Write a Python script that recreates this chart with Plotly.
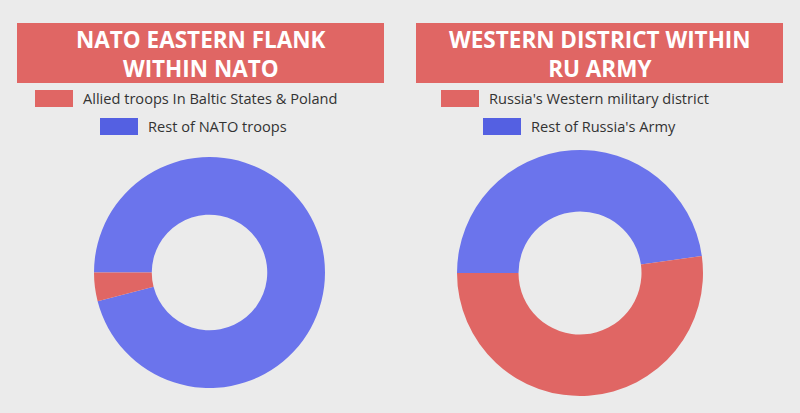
import plotly.graph_objects as go

# ---- data ----
left_title = "NATO EASTERN FLANK<br>WITHIN NATO"
left_labels = ["Allied troops In Baltic States & Poland", "Rest of NATO troops"]
left_values = [4, 96]

right_title = "WESTERN DISTRICT WITHIN<br>RU ARMY"
right_labels = ["Russia's Western military district", "Rest of Russia's Army"]
right_values = [52.2, 47.8]

RED = "#E06664"
BLUE = "#6B74EC"
BLUE_SW = "#5460E2"
BG = "#EBEBEB"
FONT = "Open Sans"
W, H = 800, 413

fig = go.Figure()

def px_x(x):
    return x / W

def px_y(y):
    return 1 - y / H

def add_pie(labels, values, x0, x1, y0, y1):
    # order reversed so that the first (red) slice starts at 9 o'clock going counterclockwise
    fig.add_trace(go.Pie(
        labels=labels[::-1], values=values[::-1],
        marker=dict(colors=[BLUE, RED], line=dict(width=0)),
        hole=0.5, sort=False, direction="counterclockwise", rotation=270,
        textinfo="none", showlegend=False,
        domain=dict(x=[px_x(x0), px_x(x1)], y=[px_y(y1), px_y(y0)]),
    ))

add_pie(left_labels, left_values, 94, 325, 157, 388)
add_pie(right_labels, right_values, 457, 703, 150, 396)

shapes = []
annotations = []

def title_box(text, x0, x1):
    shapes.append(dict(type="rect", xref="paper", yref="paper",
                       x0=px_x(x0), x1=px_x(x1), y0=px_y(83), y1=px_y(23),
                       fillcolor=RED, line=dict(width=0), layer="below"))
    annotations.append(dict(text=f"<b>{text}</b>", xref="paper", yref="paper",
                            x=px_x((x0 + x1) / 2), y=px_y(53.5),
                            xanchor="center", yanchor="middle",
                            showarrow=False, font=dict(family=FONT, size=22.5, color="white")))

def legend_item(label, color, sx, sy):
    shapes.append(dict(type="rect", xref="paper", yref="paper",
                       x0=px_x(sx), x1=px_x(sx + 38), y0=px_y(sy + 17), y1=px_y(sy),
                       fillcolor=color, line=dict(width=0)))
    annotations.append(dict(text=label, xref="paper", yref="paper",
                            x=px_x(sx + 46), y=px_y(sy + 8.5), xanchor="left", yanchor="middle",
                            showarrow=False, font=dict(family=FONT, size=14.6, color="#333333")))

title_box(left_title, 17, 384)
title_box(right_title, 416, 783)
legend_item(left_labels[0], RED, 35, 90)
legend_item(left_labels[1], BLUE_SW, 100, 118)
legend_item(right_labels[0], RED, 441, 90)
legend_item(right_labels[1], BLUE_SW, 483, 118)

fig.update_layout(
    width=W, height=H,
    margin=dict(l=0, r=0, t=0, b=0),
    paper_bgcolor=BG, plot_bgcolor=BG,
    shapes=shapes, annotations=annotations,
)

fig.write_html("out.html", config={"displayModeBar": False},
               post_script=f"document.body.style.margin='0';document.body.style.background='{BG}';")
